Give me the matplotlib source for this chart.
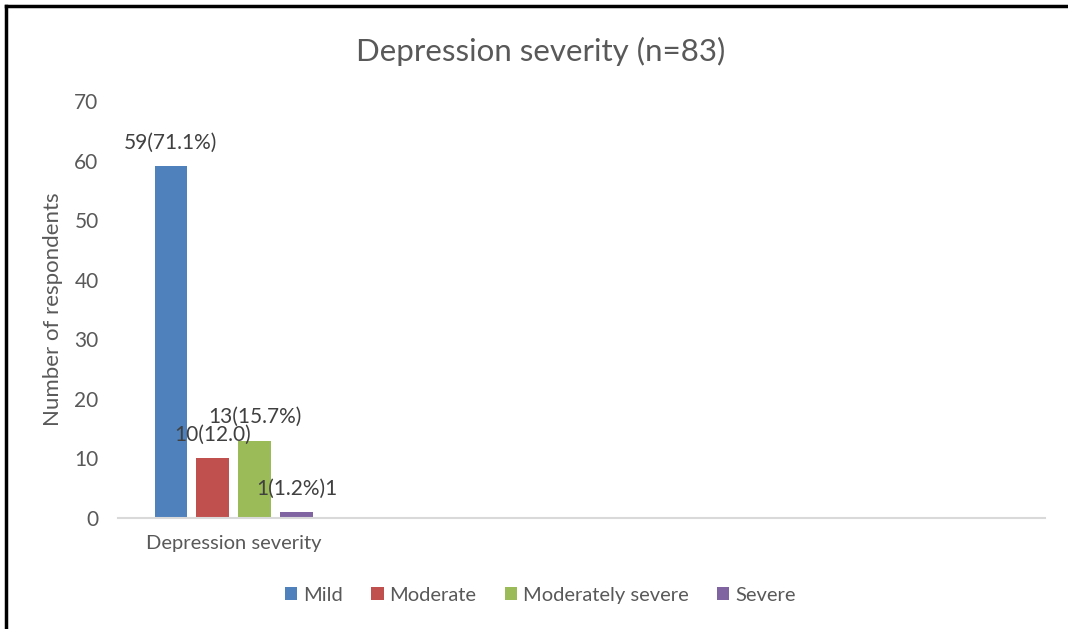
import matplotlib.pyplot as plt
import numpy as np
from matplotlib.lines import Line2D

plt.rcParams['font.family'] = ['Lato', 'DejaVu Sans']

# ===== data =====
categories = ['Depression severity', '', '', '']
series_names = ['Mild', 'Moderate', 'Moderately severe', 'Severe']
series_values = [59, 10, 13, 1]
value_labels = ['59(71.1%)', '10(12.0)', '13(15.7%)', '1(1.2%)1']
colors = ['#4F81BD', '#C0504D', '#9BBB59', '#8064A2']

TEXT_COLOR = '#595959'
BAR_WIDTH = 0.142
BAR_STEP = 0.181

fig = plt.figure(figsize=(10.68, 6.29), dpi=100)
ax = fig.add_axes([0.1105, 0.1765, 0.868, 0.663])

x = np.arange(len(categories))
n = len(series_names)
for i, (name, val, lab, col) in enumerate(zip(series_names, series_values, value_labels, colors)):
    xpos = x[0] + (i - (n - 1) / 2) * BAR_STEP
    ax.bar(xpos, val, width=BAR_WIDTH, color=col, label=name, zorder=2)
    ax.annotate(lab, (xpos, val), xytext=(0, 17), textcoords='offset points',
                ha='center', va='center', fontsize=15, color='#404040')

ax.set_xlim(-0.5, len(categories) - 0.5)
ax.set_ylim(0, 70)
ax.set_yticks(range(0, 71, 10))
ax.set_xticks(x)
ax.set_xticklabels(categories)
ax.tick_params(axis='both', length=0, labelsize=15, labelcolor=TEXT_COLOR)
ax.tick_params(axis='x', labelsize=14.5)
ax.tick_params(axis='y', pad=14)
ax.tick_params(axis='x', pad=12)

for s in ['top', 'right', 'left']:
    ax.spines[s].set_visible(False)
ax.spines['bottom'].set_color('#d9d9d9')
ax.spines['bottom'].set_linewidth(1.5)

ax.set_ylabel('Number of respondents', fontsize=16, color=TEXT_COLOR, labelpad=8)

fig.text(0.506, 0.919, 'Depression severity (n=83)', ha='center', va='center',
         fontsize=22.5, color=TEXT_COLOR)

leg = fig.legend(loc='center', bbox_to_anchor=(0.506, 0.054), ncol=4, frameon=False,
                 fontsize=14.5, handlelength=0.6, handleheight=0.6, handletextpad=0.3,
                 columnspacing=1.4, labelcolor=TEXT_COLOR)

# frame edges (left and top only)
fig.add_artist(Line2D([0.0056, 0.0056], [0, 0.9905], color='black', lw=2.5, transform=fig.transFigure))
fig.add_artist(Line2D([0.0056, 1.0], [0.9905, 0.9905], color='black', lw=2.5, transform=fig.transFigure))

plt.savefig('out.png', dpi=100)
